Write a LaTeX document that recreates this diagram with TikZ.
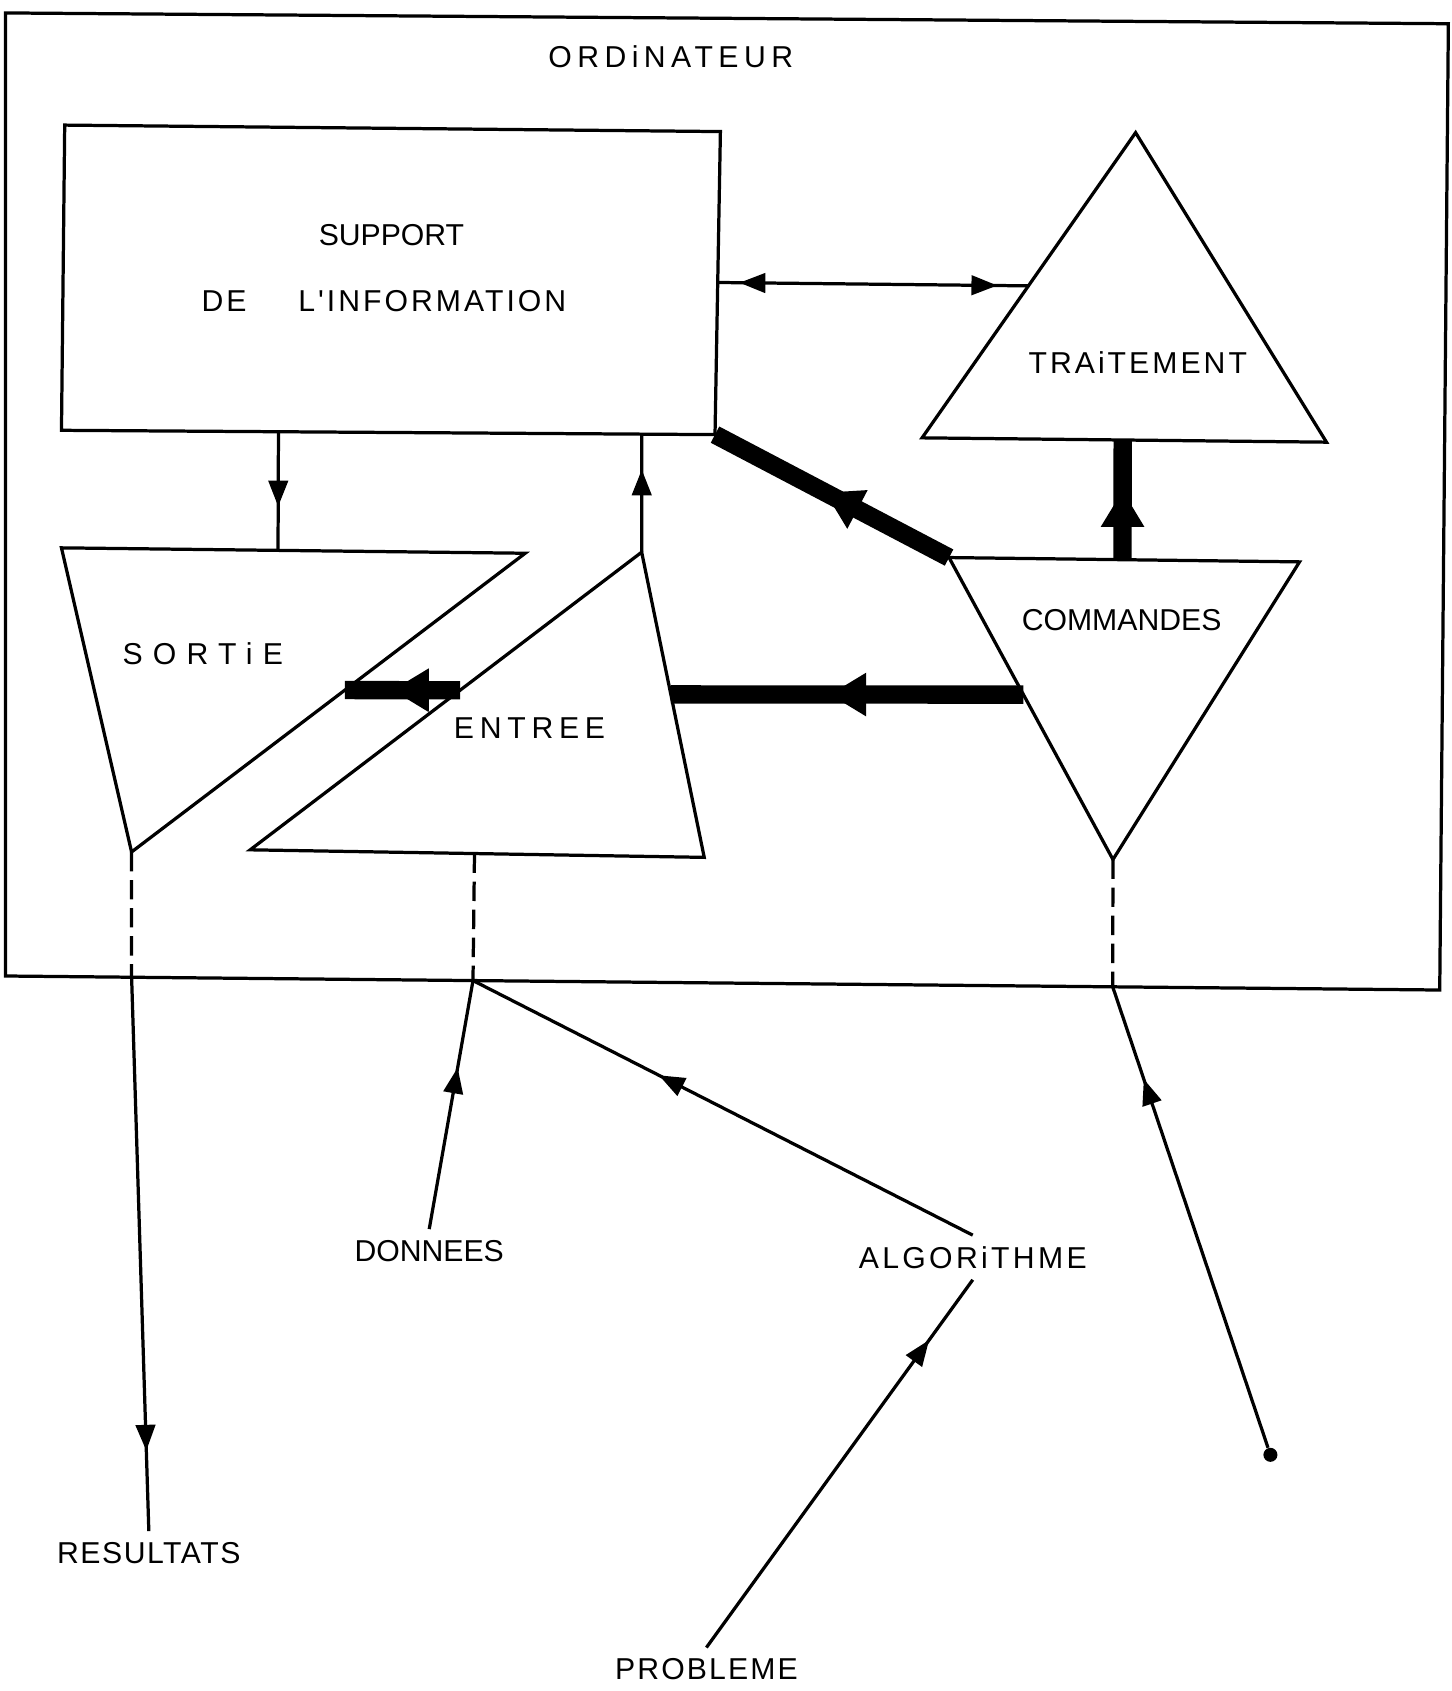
\documentclass[tikz,border=0pt]{standalone}
\usepackage{fontspec}
\usepackage{tikz}
\usetikzlibrary{calc,arrows.meta,decorations.markings}
\newfontfamily\hand{Liberation Sans}

\tikzset{
  trait/.style={line width=1.5pt},
  gros/.style={line width=8.5pt},
  tirets/.style={line width=1.5pt,dash pattern=on 9pt off 4pt},
  pointe/.style={postaction={decorate},decoration={markings,
      mark=at position #1 with {\arrow{Triangle[length=12pt,width=9pt]}}}},
  grossepointe/.style={postaction={decorate},decoration={markings,
      mark=at position #1 with {\arrow{Triangle[length=17pt,width=19pt]}}}},
  lettre/.style={font={\fontsize{14}{16}\hand\addfontfeatures{LetterSpace=#1}},inner sep=5pt},
  lettre/.default=0
}

\begin{document}
\begin{tikzpicture}[x=0.5pt,y=0.5pt,yscale=-1]
\useasboundingbox (0,0) rectangle (1346,1568);

%Shape: Ordinateur
\coordinate (ord-nw) at (5,12);
\coordinate (ord-ne) at (1343,22);
\coordinate (ord-se) at (1335,918);
\coordinate (ord-sw) at (5,905);
\draw[trait] (ord-nw) -- (ord-ne) -- (ord-se) -- (ord-sw) -- cycle;
%Shape: Support
\coordinate (sup-nw) at (60,116);
\coordinate (sup-ne) at (668,122);
\coordinate (sup-se) at (663,403);
\coordinate (sup-sw) at (57,399);
\draw[trait] (sup-nw) -- (sup-ne) -- (sup-se) -- (sup-sw) -- cycle;
%Shape: Traitement
\coordinate (trt-t) at (1053,123);
\coordinate (trt-r) at (1230,410);
\coordinate (trt-l) at (855,406);
\draw[trait] (trt-t) -- (trt-r) -- (trt-l) -- cycle;
%Shape: Sortie
\coordinate (sor-nw) at (57,508);
\coordinate (sor-ne) at (487,513);
\coordinate (sor-s) at (122,790);
\draw[trait] (sor-nw) -- (sor-ne) -- (sor-s) -- cycle;
%Shape: Entree
\coordinate (ent-t) at (595,512);
\coordinate (ent-r) at (653,795);
\coordinate (ent-l) at (232,788);
\draw[trait] (ent-t) -- (ent-r) -- (ent-l) -- cycle;
%Shape: Commandes
\coordinate (cmd-nw) at (880,517);
\coordinate (cmd-ne) at (1205,521);
\coordinate (cmd-s) at (1032,797);
\draw[trait] (cmd-nw) -- (cmd-ne) -- (cmd-s) -- cycle;

% Text Node
\node[lettre=18] (ord) at (622,53) {ORDiNATEUR};
% Text Node
\node[lettre] (sup1) at (363,218) {SUPPORT};
% Text Node
\node[lettre=10] (sup2) at (356,279) {DE\hspace{24pt}L'INFORMATION};
% Text Node
\node[lettre=10] (trt) at (1055,336) {TRAiTEMENT};
% Text Node
\node[lettre] (cmd) at (1040,575) {COMMANDES};
% Text Node
\node[lettre=34] (sor) at (188,606) {SORTiE};
% Text Node
\node[lettre=19] (ent) at (491,675) {ENTREE};
% Text Node
\node[lettre] (don) at (398,1160) {DONNEES};
% Text Node
\node[lettre=11] (alg) at (902,1166) {ALGORiTHME};
% Text Node
\node[lettre=5] (res) at (138,1440) {RESULTATS};
% Text Node
\node[lettre=7] (pro) at (655,1548) {PROBLEME};
% Dot
\node[circle,fill,inner sep=0pt,minimum size=6.5pt] (pt) at (1178,1349) {};

%Points on the edges
\coordinate (sup-e) at ($(sup-ne)!0.498!(sup-se)$);
\coordinate (trt-w) at ($(trt-t)!0.502!(trt-l)$);
\coordinate (sup-s1) at ($(sup-sw)!0.332!(sup-se)$);
\coordinate (sup-s2) at ($(sup-sw)!0.888!(sup-se)$);
\coordinate (sor-n) at ($(sor-nw)!0.467!(sor-ne)$);
\coordinate (cmd-n) at ($(cmd-nw)!0.495!(cmd-ne)$);
\coordinate (trt-s) at ($(trt-l)!0.496!(trt-r)$);
\coordinate (cmd-w) at ($(cmd-nw)!0.454!(cmd-s)$);
\coordinate (ent-e) at ($(ent-t)!0.466!(ent-r)$);
\coordinate (ent-w) at ($(ent-t)!0.464!(ent-l)$);
\coordinate (sor-e) at ($(sor-ne)!0.458!(sor-s)$);
\coordinate (ent-b) at ($(ent-l)!0.494!(ent-r)$);
\coordinate (ord-s1) at ($(ord-sw)!0.088!(ord-se)$);
\coordinate (ord-s2) at ($(ord-sw)!0.326!(ord-se)$);
\coordinate (ord-s3) at ($(ord-sw)!0.772!(ord-se)$);

%Straight Lines: support <-> traitement
\draw[trait,postaction={decorate},decoration={markings,
    mark=at position 0.07 with {\arrowreversed{Triangle[length=12pt,width=9pt]}},
    mark=at position 0.9 with {\arrow{Triangle[length=12pt,width=9pt]}}}] (sup-e) -- (trt-w);
%Straight Lines
\draw[trait,pointe=0.63] (sup-s1) -- (sor-n);
\draw[trait,pointe=0.7] (ent-t) -- (sup-s2);
%Thick Lines
\draw[gros,grossepointe=0.58] (cmd-n) -- (trt-s);
\draw[gros,grossepointe=0.53] (cmd-nw) -- (sup-se);
\draw[gros,grossepointe=0.55] (cmd-w) -- (ent-e);
\draw[gros,grossepointe=0.59] (ent-w) -- (sor-e);
%Dashed Lines
\draw[tirets] (sor-s) -- (ord-s1);
\draw[tirets] (ent-b) -- (ord-s2);
\draw[tirets] (cmd-s) -- (ord-s3);
%Straight Lines outside
\draw[trait,pointe=0.855] (ord-s1) -- (res.north);
\draw[trait,pointe=0.65] (don.north) -- (ord-s2);
\draw[trait,pointe=0.628] (alg.north) -- (ord-s2);
\draw[trait,pointe=0.836] (pro.north) -- (alg.south);
\draw[trait,pointe=0.8] (pt) -- (ord-s3);

\end{tikzpicture}
\end{document}
